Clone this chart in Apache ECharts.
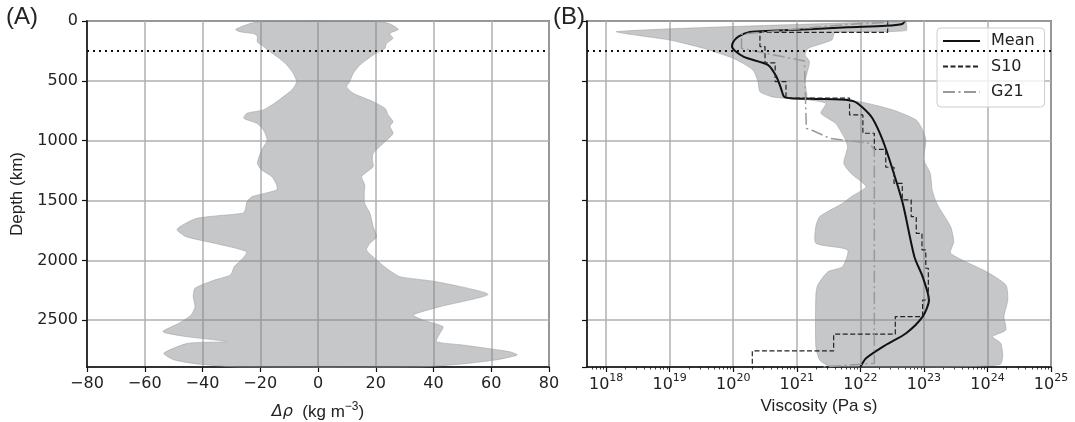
<!DOCTYPE html>
<html><head><meta charset="utf-8">
<script src="https://cdn.jsdelivr.net/npm/echarts@6/dist/echarts.min.js"></script>
<style>html,body{margin:0;padding:0;background:#fff}#c{width:1075px;height:422px}</style>
</head><body><div id="c"></div>
<script>
// ---------- data ----------
const refDepth = 250;          // dotted reference depth (km)
const cmbDepth = 2891;         // bottom of the mantle (km)
const depthTickLabels = ['0', '500', '1000', '1500', '2000', '2500'];
const drhoTickLabels = ['−80', '−60', '−40', '−20', '0', '20', '40', '60', '80'];
const viscExponentLabels = [18, 19, 20, 21, 22, 23, 24, 25];

// Panel A: density anomaly envelope, [Δρ (kg m^-3), depth (km)]
const drhoMinEdge = [[-19,0],[-24,25],[-28.5,70],[-27,90],[-22,108],[-21,130],[-21,175],[-19,210],[-16.6,256],[-13.5,310],[-10.8,367],[-8.5,440],[-7.4,507],[-8.5,560],[-9.7,590],[-14.3,674],[-18.9,743],[-24.6,771],[-25.7,813],[-21.2,855],[-18.9,910],[-17.6,994],[-19.5,1078],[-21,1189],[-19.5,1245],[-16,1300],[-14.3,1370],[-14.3,1412],[-22.9,1468],[-24.6,1510],[-25.2,1579],[-26,1606],[-42,1649],[-48.8,1740],[-45.7,1802],[-35.8,1857],[-24.7,1927],[-26,1983],[-29,2053],[-30.3,2122],[-35.8,2164],[-42.6,2233],[-43.2,2303],[-42.6,2387],[-43.9,2456],[-48.2,2526],[-53.7,2596],[-45.7,2637],[-31.5,2679],[-45.1,2693],[-53.4,2776],[-50,2830],[-42,2865],[-28,2891]];
const drhoMaxEdge = [[20,0],[25,25],[27.8,70],[25.5,95],[24.9,110],[26,145],[23.7,187],[23.2,228],[19.1,284],[14.5,368],[12.2,437],[11,507],[9.9,549],[12.2,604],[19.1,674],[23.2,730],[24.3,785],[26,841],[24.9,880],[26,940],[22.6,1022],[19.1,1106],[18.8,1161],[19.1,1217],[15.1,1300],[16.2,1370],[16,1440],[16.2,1524],[18,1607],[19.1,1718],[20.3,1802],[18,1857],[16.8,1913],[20.3,1997],[23.7,2066],[28.3,2136],[41,2178],[58.9,2284],[42.2,2387],[33,2456],[36.4,2498],[43.3,2554],[42.2,2610],[41,2679],[50,2707],[66.3,2763],[69,2790],[62,2830],[50,2865],[35,2891]];

// Panel B: viscosity as log10(Pa s), [log10 η, depth (km)]
const viscMinEdge = [[22.72,0],[18.17,88],[19.0,159],[19.53,228],[20.0,312],[20.31,409],[20.39,507],[20.42,590],[20.6,632],[20.8,645],[21.2,660],[21.46,688],[21.38,771],[21.61,855],[21.74,966],[21.8,1050],[21.74,1189],[21.85,1272],[22.09,1384],[21.88,1460],[21.7,1530],[21.36,1635],[21.3,1718],[21.3,1857],[21.8,1913],[21.72,2053],[21.49,2095],[21.33,2206],[21.3,2290],[21.3,2721],[21.36,2832],[21.5,2880],[22.0,2891]];
const viscMaxEdge = [[22.72,0],[22.72,80],[21.6,97],[21.55,159],[21.18,228],[21.13,284],[21.2,340],[21.13,507],[21.16,618],[21.16,640],[21.98,674],[22.51,743],[22.88,827],[22.98,911],[23.03,994],[23.0,1161],[23.1,1272],[23.13,1412],[23.18,1495],[23.24,1560],[23.42,1718],[23.47,1844],[23.42,1941],[23.98,2094],[24.29,2206],[24.32,2331],[24.26,2470],[24.29,2581],[24.08,2637],[24.21,2693],[24.24,2804],[24.2,2870],[23.5,2891]];
const meanVisc = [[22.7,0],[22.66,25],[22.4,40],[21.8,52],[21.2,68],[20.6,82],[20.26,92],[20.08,130],[20.0,175],[19.98,214],[20.16,298],[20.55,368],[20.68,465],[20.75,560],[20.8,632],[20.9,645],[21.3,651],[21.7,656],[21.9,672],[22.04,725],[22.19,813],[22.35,994],[22.51,1245],[22.67,1530],[22.85,1969],[22.98,2136],[23.08,2331],[22.98,2470],[22.72,2609],[22.4,2707],[22.09,2818],[22.0,2891]];
const s10Visc = [[22.43,0],[20.42,95],[20.5,214],[20.66,350],[20.83,507],[21.83,645],[22.04,785],[22.22,938],[22.4,1072],[22.53,1222],[22.66,1356],[22.8,1495],[22.88,1635],[22.97,1774],[23.03,1913],[23.07,2066],[22.98,2331],[22.55,2470],[21.58,2617],[20.3,2757],[20.3,2891]];
const g21Visc = [[22.7,0],[22.3,15],[21.8,28],[20.13,110],[20.13,228],[21.12,335],[21.15,350],[21.15,897],[21.25,915],[21.52,980],[22.14,1022],[22.22,1075],[22.22,2860],[21.4,2891]];

// ---------- chart ----------
const TXT = '#222';
const AX = '#111';
const GRIDC = '#b0b0b0';
const tickFont = 'DejaVu Sans';
const labelFont = 'Liberation Sans';
const viscMin = Math.log10(5e17), viscMax = 25;
const minorLog = [];
for (let n = 17; n < 25; n++) for (let k = 2; k <= 9; k++) {
  const v = n + Math.log10(k);
  if (v > viscMin) minorLog.push(v);
}

function envelope(minEdge, maxEdge, xi, yi) {
  return {
    type: 'custom', xAxisIndex: xi, yAxisIndex: yi, silent: true, z: 1,
    data: [[minEdge[0][0], minEdge[0][1]]],
    renderItem: (params, api) => {
      const pts = maxEdge.concat(minEdge.slice().reverse()).map(p => api.coord(p));
      return { type: 'polygon', shape: { points: pts, smooth: 0.2 },
        style: { fill: 'rgba(128,130,136,0.45)', stroke: 'rgba(150,152,158,0.5)', lineWidth: 1 } };
    }
  };
}
const refLine = (xi, yi) => ({
  type: 'line', name: 'ref', xAxisIndex: xi, yAxisIndex: yi, data: [], silent: true, z: 5,
  markLine: { silent: true, symbol: 'none', animation: false, label: { show: false },
    lineStyle: { color: AX, type: [2, 4], width: 2, cap: 'butt' },
    data: [{ yAxis: refDepth }] }
});

const axisLineStyle = { show: true, onZero: false, lineStyle: { color: AX, width: 1.5 } };
const tickStyle = { show: true, inside: false, length: 5, lineStyle: { color: AX, width: 1.2 } };
const splitStyle = { show: true, lineStyle: { color: GRIDC, width: 1.5 } };

const option = {
  animation: false,
  backgroundColor: '#fff',
  title: [
    { text: '(A)', left: 6, top: 5, padding: 0, textStyle: { fontFamily: labelFont, fontSize: 24, fontWeight: 'normal', color: TXT } },
    { text: '(B)', left: 553, top: 5, padding: 0, textStyle: { fontFamily: labelFont, fontSize: 24, fontWeight: 'normal', color: TXT } }
  ],
  grid: [
    { left: 87, top: 21, width: 462, height: 346, show: true, borderColor: AX, borderWidth: 1.5, outerBoundsMode: 'none' },
    { left: 587, top: 21, width: 464, height: 346, show: true, borderColor: AX, borderWidth: 1.5, outerBoundsMode: 'none' }
  ],
  legend: {
    data: ['Mean', 'S10', 'G21'], orient: 'vertical', left: 937, top: 28,
    itemWidth: 37, itemHeight: 16, itemGap: 9.5, padding: [5, 10, 7, 5],
    backgroundColor: 'rgba(255,255,255,0.8)', borderColor: '#cccccc', borderWidth: 1, borderRadius: 4,
    itemStyle: { opacity: 0 },
    textStyle: { fontFamily: tickFont, fontSize: 16, color: TXT, padding: [0, 0, 0, 6] }
  },
  xAxis: [
    { gridIndex: 0, type: 'value', min: -80, max: 80, interval: 20, position: 'bottom',
      axisLine: axisLineStyle, axisTick: tickStyle, splitLine: splitStyle,
      axisLabel: { margin: 9, fontFamily: tickFont, fontSize: 16, color: TXT,
        formatter: v => drhoTickLabels[Math.round((v + 80) / 20)] },
      name: '{i|Δρ}  (kg m{s|−3})', nameLocation: 'middle', nameGap: 34,
      nameTextStyle: { fontFamily: labelFont, fontSize: 17, color: TXT,
        rich: { i: { fontFamily: 'DejaVu Sans', fontStyle: 'italic', fontSize: 16, color: TXT },
                s: { fontFamily: labelFont, fontSize: 12, color: TXT, padding: [0, 0, 10, 0] } } } },
    { gridIndex: 1, type: 'value', min: viscMin, max: viscMax, splitNumber: 7, position: 'bottom',
      axisLine: axisLineStyle, axisTick: tickStyle, splitLine: splitStyle,
      axisLabel: { margin: 6, showMinLabel: false,
        formatter: v => {
          const r = Math.round(v);
          return (Math.abs(v - r) < 1e-6 && viscExponentLabels.indexOf(r) >= 0) ? '{b|10}{e|' + r + '}' : '';
        },
        rich: { b: { fontFamily: tickFont, fontSize: 16, color: TXT },
                e: { fontFamily: tickFont, fontSize: 11, color: TXT, padding: [0, 0, 12, 0] } } },
      name: 'Viscosity (Pa s)', nameLocation: 'middle', nameGap: 31,
      nameTextStyle: { fontFamily: labelFont, fontSize: 17, color: TXT } },
    { gridIndex: 1, type: 'value', min: viscMin, max: viscMax, position: 'bottom',
      axisLine: { show: false, onZero: false }, splitLine: { show: false }, axisLabel: { show: false },
      axisTick: { show: true, inside: false, length: 2.5, customValues: minorLog, lineStyle: { color: AX, width: 0.8 } } }
  ],
  yAxis: [
    { gridIndex: 0, type: 'value', inverse: true, min: 0, max: cmbDepth, interval: 500,
      axisLine: axisLineStyle, axisTick: tickStyle, splitLine: splitStyle,
      axisLabel: { margin: 9, showMaxLabel: false, fontFamily: tickFont, fontSize: 16, color: TXT,
        formatter: v => depthTickLabels[v / 500] || '' },
      name: 'Depth (km)', nameLocation: 'middle', nameGap: 61, nameRotate: 90,
      nameTextStyle: { fontFamily: labelFont, fontSize: 17, color: TXT } },
    { gridIndex: 1, type: 'value', inverse: true, min: 0, max: cmbDepth, interval: 500,
      axisLine: axisLineStyle, axisTick: tickStyle, splitLine: splitStyle,
      axisLabel: { show: false } }
  ],
  series: [
    envelope(drhoMinEdge, drhoMaxEdge, 0, 0),
    refLine(0, 0),
    envelope(viscMinEdge, viscMaxEdge, 1, 1),
    { type: 'line', name: 'Mean', xAxisIndex: 1, yAxisIndex: 1, data: meanVisc, symbol: 'none', smooth: 0.25, z: 3,
      lineStyle: { color: '#111', width: 2 }, itemStyle: { color: '#111' } },
    { type: 'line', name: 'S10', xAxisIndex: 1, yAxisIndex: 1, data: s10Visc, symbol: 'none', step: 'start', z: 3,
      lineStyle: { color: '#222', width: 1.2, type: [5, 2.5] }, itemStyle: { color: '#222' } },
    { type: 'line', name: 'G21', xAxisIndex: 1, yAxisIndex: 1, data: g21Visc, symbol: 'none', z: 3,
      lineStyle: { color: '#999', width: 1.5, type: [12, 3.5, 2, 3.5] }, itemStyle: { color: '#999' } },
    refLine(1, 1)
  ]
};
const chart = echarts.init(document.getElementById('c'), null, { renderer: 'canvas' });
chart.setOption(option);
</script>
</body></html>
